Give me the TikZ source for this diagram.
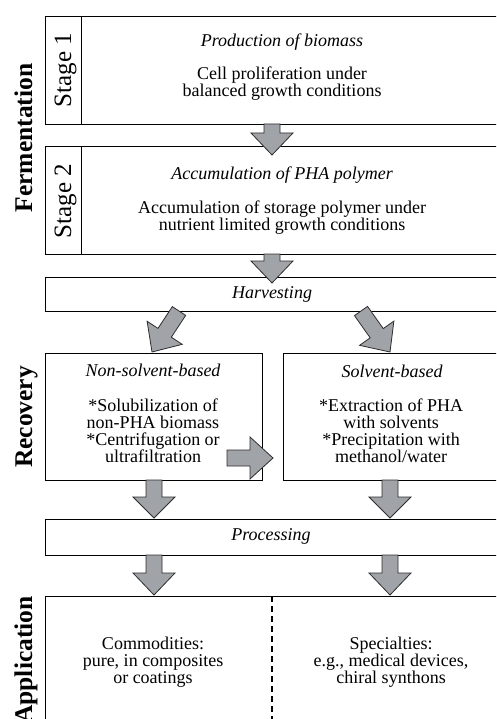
\documentclass[tikz,border=0pt]{standalone}
\usepackage{fontspec}
\setmainfont{Liberation Serif}
\usetikzlibrary{calc}

\definecolor{arrowgray}{RGB}{160,163,167}
\definecolor{arrowedge}{RGB}{45,45,45}

\tikzset{
  box/.style={draw=black, line width=1.2pt, rectangle, inner sep=0pt, anchor=north west},
  % multi-line texts: the base anchor sits on the baseline of the last line
  bodytext/.style={font=\fontsize{18}{17}\selectfont, align=center, inner sep=0pt, anchor=base},
  headtext/.style={font=\fontsize{18}{17}\selectfont\itshape, inner sep=0pt, anchor=base},
  phase/.style={font=\fontsize{25.5}{26}\selectfont\bfseries, rotate=90, anchor=base, inner sep=0pt},
  stagelabel/.style={font=\fontsize{25}{26}\selectfont, rotate=90, anchor=base, inner sep=0pt},
  fatarrow/.style={fill=arrowgray, draw=arrowedge, line width=0.8pt, line join=miter},
  divider/.style={line width=1.2pt, dash pattern=on 6pt off 4pt},
}

% block arrow: [head length]{tail}{tip}
\newcommand\blockarrow[3][22pt]{%
  \coordinate (bahead) at ($(#3)!#1!(#2)$);
  \draw[fatarrow] ($(#2)!8pt!90:(#3)$) -- ($(bahead)!8pt!90:(#3)$)
    -- ($(bahead)!21pt!90:(#3)$) -- (#3) -- ($(bahead)!21pt!-90:(#3)$)
    -- ($(bahead)!8pt!-90:(#3)$) -- ($(#2)!8pt!-90:(#3)$) -- cycle;
}

\begin{document}
\begin{tikzpicture}[x=1pt, y=-1pt]
\useasboundingbox (0,0) rectangle (496,719);
\clip (0,0) rectangle (496,719);

% ---- boxes ----
\node[box, minimum width=460pt, minimum height=108pt] (s1) at (45,16) {};
\node[box, minimum width=36pt, minimum height=108pt] (s1lab) at (45,16) {};
\node[box, minimum width=460pt, minimum height=108pt] (s2) at (45,146) {};
\node[box, minimum width=36pt, minimum height=108pt] (s2lab) at (45,146) {};
\node[box, minimum width=460pt, minimum height=34pt] (harv) at (45,277) {};
\node[box, minimum width=217pt, minimum height=127pt] (nonsolv) at (45,353) {};
\node[box, minimum width=222pt, minimum height=127pt] (solv) at (283,353) {};
\node[box, minimum width=460pt, minimum height=36pt] (proc) at (45,519) {};
\node[box, minimum width=460pt, minimum height=140pt] (app) at (45,596) {};
\coordinate (appsplit) at (272,596);
\coordinate (appbottom) at (272,719);
\draw[divider] (appsplit) -- (appbottom);

% ---- connector end points ----
\coordinate (a1t) at (272,124);  \coordinate (a1h) at (272,155);
\coordinate (a2t) at (272,254);  \coordinate (a2h) at (272,283);
\coordinate (a3t) at (179,311);  \coordinate (a3h) at (152,352);
\coordinate (a4t) at (361,311);  \coordinate (a4h) at (390,352);
\coordinate (a5t) at (227,458);  \coordinate (a5h) at (273,458);
\coordinate (a6t) at (154,480);  \coordinate (a6h) at (154,518);
\coordinate (a7t) at (390,480);  \coordinate (a7h) at (390,518);
\coordinate (a8t) at (154,555);  \coordinate (a8h) at (154,595);
\coordinate (a9t) at (390,555);  \coordinate (a9h) at (390,595);

\blockarrow{a1t}{a1h}
\blockarrow{a2t}{a2h}
\blockarrow[23pt]{a3t}{a3h}
\blockarrow[23pt]{a4t}{a4h}
\blockarrow[23pt]{a5t}{a5h}
\blockarrow[21pt]{a6t}{a6h}
\blockarrow[21pt]{a7t}{a7h}
\blockarrow{a8t}{a8h}
\blockarrow{a9t}{a9h}

% ---- side labels ----
\node[phase] (ferm) at (32,138) {Fermentation};
\node[phase] (recov) at (32,417) {Recovery};
\node[phase] (appl) at (32,660) {Application};
\node[stagelabel] (st1) at (71,70) {Stage 1};
\node[stagelabel] (st2) at (71,201) {Stage 2};

% ---- box texts ----
\node[headtext] (s1h) at (282,47) {Production of biomass};
\node[bodytext] (s1b) at (282,97) {Cell proliferation under\\balanced growth conditions};
\node[headtext] (s2h) at (282,180) {Accumulation of PHA polymer};
\node[bodytext] (s2b) at (282,230) {Accumulation of storage polymer under\\nutrient limited growth conditions};
\node[headtext] (harvt) at (272,298) {Harvesting};
\node[headtext] (nsh) at (153,376) {Non-solvent-based};
\node[bodytext] (nsb) at (153,462) {*Solubilization of\\non-PHA biomass\\*Centrifugation or\\ultrafiltration};
\node[headtext] (svh) at (392,377) {Solvent-based};
\node[bodytext] (svb) at (391,462) {*Extraction of PHA\\with solvents\\*Precipitation with\\methanol/water};
\node[headtext] (proct) at (271,540) {Processing};
\node[bodytext] (comm) at (153,683) {Commodities:\\pure, in composites\\or coatings};
\node[bodytext] (spec) at (391,683) {Specialties:\\e.g., medical devices,\\chiral synthons};
\end{tikzpicture}
\end{document}
